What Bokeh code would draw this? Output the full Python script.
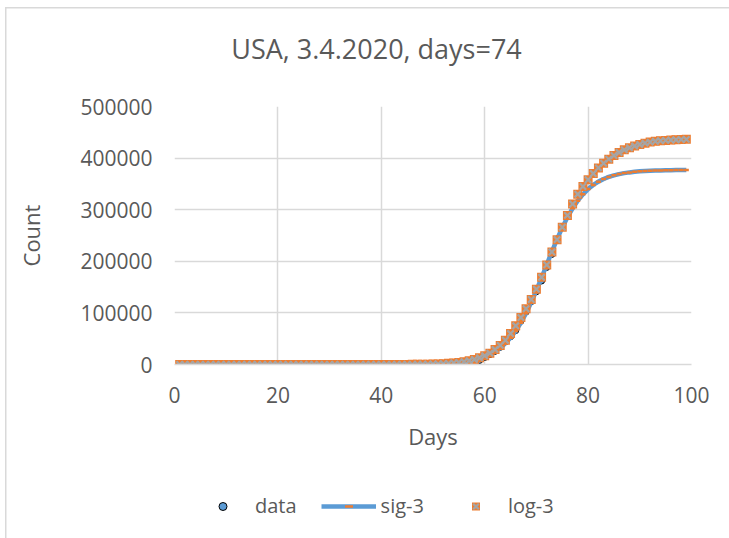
from bokeh.plotting import figure
from bokeh.layouts import column
from bokeh.models import (Legend, LegendItem, FixedTicker, NumeralTickFormatter, Label)
from bokeh.embed import file_html
from bokeh.resources import INLINE

# ---- data -------------------------------------------------------------
days = list(range(1, 100))

# observed cumulative cases, days 1..74
data_days = list(range(1, 75))
data_counts = [
    1, 1,
    1, 1, 2, 2, 5, 5, 5, 5, 5, 7,
    8, 8, 11, 11, 11, 11, 11, 11, 11, 11,
    12, 12, 13, 13, 13, 13, 13, 13, 13, 13,
    15, 15, 15, 51, 51, 57, 58, 60, 68,
    74, 98, 118, 149, 217, 262, 402, 518, 583, 959,
    1281, 1663, 2179, 2726, 3499, 4632, 6421, 7786, 13680, 19101,
    25493, 33276, 43847, 53740, 65778, 83836, 101657, 121478, 140886, 161807, 188172,
    213372, 243453,
]

# sigmoid model, days 1..99
sig3 = [
    0, 0, 0, 0, 0, 0, 0, 0, 0, 0,
    0, 0, 0, 0, 0, 0, 0, 0, 0, 0,
    0, 0, 1, 1, 1, 2, 2, 3, 4, 5,
    6, 8, 11, 14, 18, 24, 31, 41, 54, 70,
    92, 121, 158, 207, 272, 356, 466, 611, 800, 1050,
    1370, 1790, 2340, 3060, 4000, 5220, 6810, 8870, 11530, 14970,
    19360, 24970, 32060, 40900, 51840, 65150, 80990, 99470, 120450, 143560,
    168200, 193600, 218800, 242900, 265200, 285200, 302700, 317500, 329800, 339900,
    348000, 354400, 359500, 363500, 366600, 369000, 370900, 372300, 373400, 374300,
    375000, 375500, 375900, 376200, 376400, 376600, 376700, 376800, 376850,
]

# logistic model, days 1..99
log3 = [
    0, 0, 0, 0, 0, 0, 0, 0, 0, 0,
    0, 0, 0, 0, 0, 0, 0, 0, 0, 1,
    1, 1, 1, 1, 1, 1, 1, 1, 1, 2,
    2, 3, 4, 5, 7, 10, 14, 19, 26, 36,
    50, 70, 95, 130, 180, 250, 340, 470, 640, 880,
    1200, 1600, 2200, 3000, 4100, 5500, 7400, 9800, 13000, 17000,
    22000, 29000, 37000, 47000, 60000, 75000, 91000, 108000, 126000, 146000,
    169000, 193000, 218000, 242000, 266000, 289000, 311000, 330000, 345000, 358000,
    370000, 381000, 390000, 398000, 405000, 411000, 416000, 420000, 423500, 426500,
    429000, 431000, 432500, 433500, 434300, 435000, 435500, 436000, 436300,
]

x_ticks = [0, 20, 40, 60, 80, 100]
y_ticks = [0, 100000, 200000, 300000, 400000, 500000]

title_text = "USA, 3.4.2020, days=74"

# ---- styling ----------------------------------------------------------
FONT = "Open Sans"
TXT = "#595959"
GRID = "#D9D9D9"
BLUE = "#5B9BD5"
ORANGE = "#ED7D31"
GREY = "#A5A5A5"
W = 729
LEFT, RIGHT = 174, 38          # side borders shared by all strips (frames align)


def bare(height, x_range, y_range):
    """A figure with no axes, used as a strip for text or the legend."""
    f = figure(width=W, height=height, output_backend="svg", toolbar_location=None,
               x_range=x_range, y_range=y_range,
               x_axis_type=None, y_axis_type=None,
               min_border_left=LEFT, min_border_right=RIGHT,
               min_border_top=0, min_border_bottom=0)
    f.outline_line_color = None
    f.background_fill_alpha = 0
    f.border_fill_alpha = 0
    return f


# ---- title strip ------------------------------------------------------
# x range in page pixels across the (aligned) frame
p_top = bare(80, (LEFT, W - RIGHT), (80, 0))
p_top.add_layout(Label(x=376, y=48, text=title_text, text_align="center",
                       text_baseline="middle", text_font=FONT,
                       text_font_size="27px", text_color=TXT))

# ---- main plot --------------------------------------------------------
p = figure(width=W, height=390, output_backend="svg", toolbar_location=None,
           x_range=(0, 100), y_range=(0, 500000),
           min_border_left=LEFT, min_border_right=RIGHT,
           min_border_top=26, min_border_bottom=106)

p.background_fill_color = "white"
p.border_fill_alpha = 0
p.outline_line_color = None

for g, t in ((p.xgrid, x_ticks), (p.ygrid, y_ticks)):
    g.ticker = FixedTicker(ticks=t)
    g.grid_line_color = GRID
    g.grid_line_width = 1.5

p.xaxis.ticker = FixedTicker(ticks=x_ticks)
p.yaxis.ticker = FixedTicker(ticks=y_ticks)
p.yaxis.formatter = NumeralTickFormatter(format="0")

for ax in (p.xaxis[0], p.yaxis[0]):
    ax.major_tick_line_color = None
    ax.minor_tick_line_color = None
    ax.major_tick_out = 0
    ax.major_tick_in = 0
    ax.major_label_text_font = FONT
    ax.major_label_text_font_size = "21px"
    ax.major_label_text_color = TXT
    ax.major_label_standoff = 22
    ax.axis_label_text_font = FONT
    ax.axis_label_text_font_size = "22px"
    ax.axis_label_text_font_style = "normal"
    ax.axis_label_text_color = TXT

p.xaxis.axis_label = "Days"
p.yaxis.axis_label = "Count"
p.xaxis.axis_line_color = GRID
p.xaxis.axis_line_width = 1.5
p.yaxis.axis_line_color = None
p.xaxis.axis_label_standoff = 15
p.yaxis.axis_label_standoff = 31


def draw_series(f):
    r_data = f.scatter(data_days, data_counts, marker="circle", size=6,
                       fill_color=BLUE, line_color="black", line_width=1)
    r_sig_line = f.line(days, sig3, line_color=BLUE, line_width=4.5)
    r_sig_mark = f.scatter(days, sig3, marker="dash", size=5,
                           line_color=ORANGE, line_width=2.5)
    r_log_sq = f.scatter(days, log3, marker="square", size=9,
                         fill_color=ORANGE, line_color=None)
    r_log_x = f.scatter(days, log3, marker="x", size=9,
                        line_color=GREY, line_width=2.2)
    return r_data, (r_sig_line, r_sig_mark), (r_log_sq, r_log_x)


draw_series(p)

# ---- legend strip -----------------------------------------------------
# the legend keys reuse the same series styles; this strip's ranges keep
# the series themselves out of view
p_leg = bare(68, (1000, 2000), (-2e6, -1e6))
leg_data, leg_sig, leg_log = draw_series(p_leg)
legend = Legend(
    items=[LegendItem(label="data", renderers=[leg_data]),
           LegendItem(label="sig-3", renderers=list(leg_sig)),
           LegendItem(label="log-3", renderers=list(leg_log))],
    orientation="horizontal", location=(21, 19),
    glyph_width=55, glyph_height=20, label_standoff=5, spacing=24,
    padding=0, margin=0, border_line_color=None, background_fill_alpha=0,
    label_text_font=FONT, label_text_font_size="20px", label_text_color=TXT)
p_leg.add_layout(legend)

# chart-area border along the top and left edges
layout = column(p_top, p, p_leg, spacing=0, styles={
    "background-color": "white",
    "background-image": ("linear-gradient(#D9D9D9, #D9D9D9), "
                         "linear-gradient(#D9D9D9, #D9D9D9)"),
    "background-position": "5px 7px, 5px 7px",
    "background-size": "1.5px 100%, 100% 1.5px",
    "background-repeat": "no-repeat, no-repeat",
})

open("out.html", "w").write(file_html(layout, INLINE))
